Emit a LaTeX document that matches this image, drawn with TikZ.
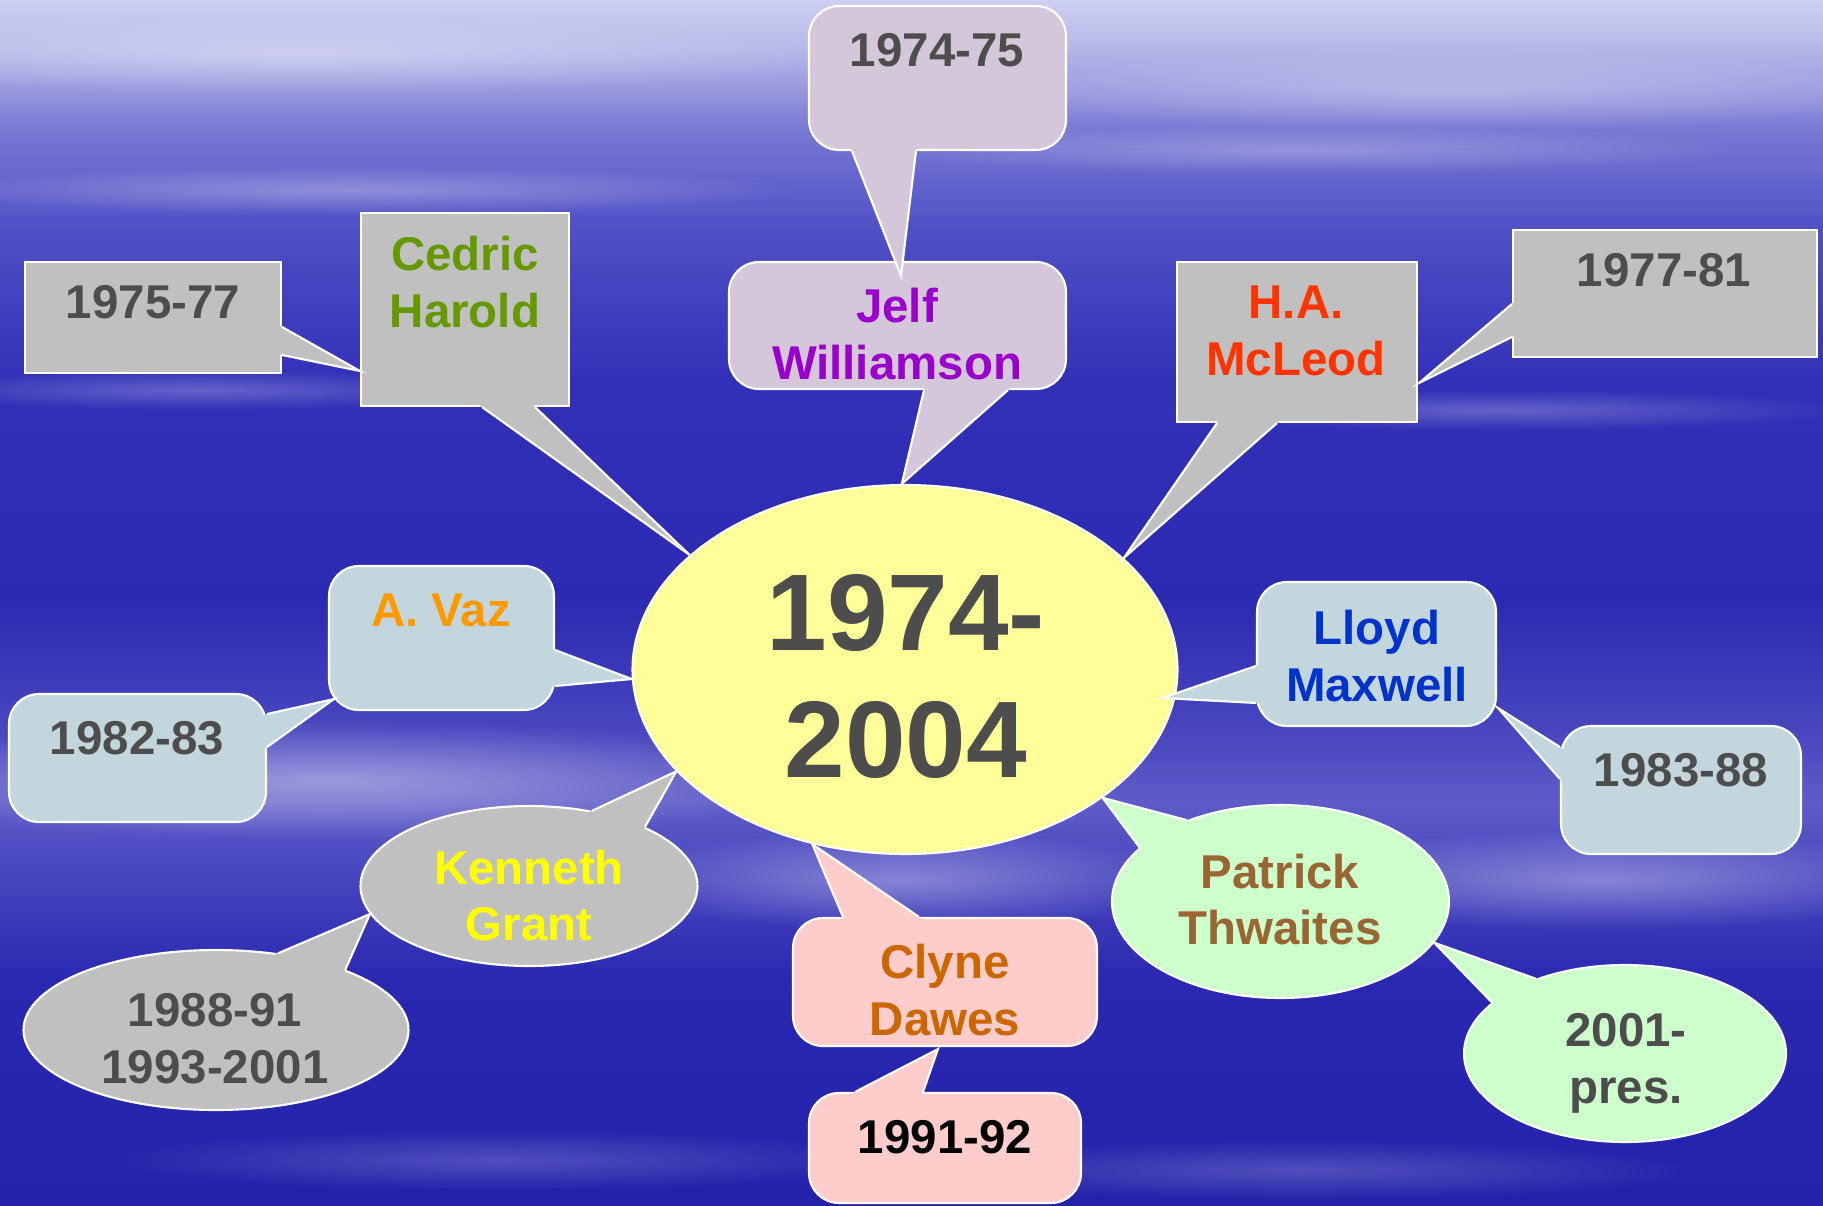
\documentclass[tikz,border=0pt]{standalone}
\usepackage{fontspec}
\setmainfont{Liberation Sans}
\usepackage{tikz}
\usetikzlibrary{shapes,positioning,calc,fadings}

\definecolor{grayfill}{RGB}{192,192,192}
\definecolor{lilac}{RGB}{212,199,217}
\definecolor{icefill}{RGB}{195,214,222}
\definecolor{pinkfill}{RGB}{255,204,204}
\definecolor{mintfill}{RGB}{204,255,204}
\definecolor{sunfill}{RGB}{255,255,153}
\definecolor{yeartext}{RGB}{77,77,77}
\definecolor{namegreen}{RGB}{102,153,0}
\definecolor{namepurple}{RGB}{153,0,204}
\definecolor{namered}{RGB}{255,51,0}
\definecolor{nameorange}{RGB}{255,153,0}
\definecolor{nameblue}{RGB}{0,51,204}
\definecolor{nameyellow}{RGB}{255,255,0}
\definecolor{namerust}{RGB}{204,102,0}
\definecolor{namebrown}{RGB}{153,102,51}
\definecolor{skyT}{RGB}{205,208,240}
\definecolor{skyT2}{RGB}{180,182,232}
\definecolor{skyM2}{RGB}{120,120,212}
\definecolor{skyM}{RGB}{80,80,198}
\definecolor{skyB2}{RGB}{50,48,183}
\definecolor{skyB}{RGB}{44,42,178}
\definecolor{skyC}{RGB}{75,72,192}
\definecolor{skyL}{RGB}{95,92,200}
\definecolor{skyC2}{RGB}{70,68,190}
\definecolor{skyD}{RGB}{42,40,176}
\definecolor{skyE}{RGB}{36,34,170}

\pgfdeclareverticalshading{sky}{100bp}{color(0bp)=(skyE); color(25bp)=(skyE); color(34.4bp)=(skyD); color(38.5bp)=(skyC2); color(41.8bp)=(skyL); color(44.3bp)=(skyC); color(50.1bp)=(skyB); color(59.2bp)=(skyB2); color(65.5bp)=(skyM); color(69.6bp)=(skyM2); color(72.9bp)=(skyT2); color(75bp)=(skyT); color(100bp)=(skyT)}

\tikzfading[name=softblob, inner color=transparent!0, outer color=transparent!100]

\tikzset{
  rim/.style={draw=white, line width=0.6pt},
  box/.style={rectangle, rim, inner sep=0pt},
  rbox/.style={box, rounded corners=3mm},
  oval/.style={ellipse, rim, inner sep=0pt},
  txt/.style={align=center, inner sep=0pt, text=yeartext, font=\fontsize{13.5}{16.2}\selectfont\bfseries},
  haze/.style={white, path fading=softblob},
}

\newcommand{\drawpointer}[4]{%
  \coordinate (pa) at #2;
  \coordinate (pb) at #3;
  \coordinate (pt) at #4;
  \fill[#1] ($(pt)!1.25!(pa)$) -- (pt) -- ($(pt)!1.25!(pb)$) -- cycle;
  \draw[rim, line join=miter] (pa) -- (pt) -- (pb);
}

\begin{document}
\begin{tikzpicture}[x=0.1mm, y=-0.1mm]
    \useasboundingbox (0,0) rectangle (1823,1206);
    \shade[shading=sky] (0,0) rectangle (1823,1206);
    \fill[haze, opacity=0.35] (300,55) ellipse (55mm and 4mm);
    \fill[haze, opacity=0.3] (1450,90) ellipse (50mm and 4mm);
    \fill[haze, opacity=0.3] (350,190) ellipse (45mm and 2.5mm);
    \fill[haze, opacity=0.25] (1300,150) ellipse (45mm and 2.5mm);
    \fill[haze, opacity=0.25] (200,390) ellipse (30mm and 2mm);
    \fill[haze, opacity=0.25] (1500,410) ellipse (35mm and 2mm);
    \fill[haze, opacity=0.4] (330,780) ellipse (50mm and 6mm);
    \fill[haze, opacity=0.35] (1600,880) ellipse (35mm and 5mm);
    \fill[haze, opacity=0.35] (900,880) ellipse (30mm and 5mm);
    \fill[haze, opacity=0.2] (500,1160) ellipse (40mm and 3mm);
    \fill[haze, opacity=0.2] (1300,1170) ellipse (40mm and 3mm);

    \node[oval, fill=sunfill, minimum width=54.5mm, minimum height=36.9mm] (centre) at (905,669.5) {};
    \node[rbox, fill=lilac, minimum width=25.7mm, minimum height=14.4mm] (y7475) at (937.5,78) {};
    \node[rbox, fill=lilac, minimum width=33.7mm, minimum height=12.7mm] (jelf) at (897.5,325.5) {};
    \node[box, fill=grayfill, minimum width=25.6mm, minimum height=11.1mm] (y7577) at (153,317.5) {};
    \node[box, fill=grayfill, minimum width=20.8mm, minimum height=19.3mm] (cedric) at (465,309.5) {};
    \node[box, fill=grayfill, minimum width=24mm, minimum height=16mm] (mcleod) at (1297,342) {};
    \node[box, fill=grayfill, minimum width=30.4mm, minimum height=12.7mm] (y7781) at (1665,293.5) {};
    \node[rbox, fill=icefill, minimum width=22.5mm, minimum height=14.4mm] (vaz) at (441.5,638) {};
    \node[rbox, fill=icefill, minimum width=25.7mm, minimum height=12.8mm] (y8283) at (137.5,758) {};
    \node[rbox, fill=icefill, minimum width=23.9mm, minimum height=14.4mm] (lloyd) at (1376.5,654) {};
    \node[rbox, fill=icefill, minimum width=24mm, minimum height=12.8mm] (y8388) at (1681,790) {};
    \node[oval, fill=grayfill, minimum width=33.7mm, minimum height=16mm] (kenneth) at (529,886) {};
    \node[oval, fill=grayfill, minimum width=38.5mm, minimum height=16mm] (y8891) at (216,1030) {};
    \node[rbox, fill=pinkfill, minimum width=30.4mm, minimum height=12.8mm] (clyne) at (945,982) {};
    \node[rbox, fill=pinkfill, minimum width=27.2mm, minimum height=11mm] (y9192) at (945,1148) {};
    \node[oval, fill=mintfill, minimum width=33.7mm, minimum height=19.3mm] (patrick) at (1280.5,901.5) {};
    \node[oval, fill=mintfill, minimum width=32.2mm, minimum height=17.7mm] (y0104) at (1625,1053.5) {};

    \drawpointer{lilac}{($(y7475.south)+(-85.5,0)$)}{($(y7475.south)+(-21.5,0)$)}{($(jelf.north)+(3.5,15)$)}
    \drawpointer{lilac}{($(jelf.south)+(26.5,0)$)}{($(jelf.south)+(110.5,0)$)}{(centre.91.9)}
    \drawpointer{grayfill}{($(y7577.east)+(0,9.5)$)}{($(y7577.east)+(0,37.5)$)}{($(cedric.west)+(0,61.5)$)}
    \drawpointer{grayfill}{($(cedric.south)+(17,0)$)}{($(cedric.south)+(70,0)$)}{(centre.152.8)}
    \drawpointer{grayfill}{($(mcleod.south)+(-80,0)$)}{($(mcleod.south)+(-20,0)$)}{(centre.27.6)}
    \drawpointer{grayfill}{($(y7781.west)+(0,10.5)$)}{($(y7781.west)+(0,43.5)$)}{($(mcleod.east)+(1,41)$)}
    \drawpointer{icefill}{($(vaz.east)+(0,12)$)}{($(vaz.east)+(0,48)$)}{(centre.182)}
    \drawpointer{icefill}{($(y8283.east)+(0,-44)$)}{($(y8283.east)+(0,-11)$)}{($(vaz.south west)+(6,-12)$)}
    \drawpointer{icefill}{($(lloyd.west)+(0,12)$)}{($(lloyd.west)+(0,49)$)}{($(centre.east)+(-16.5,28.5)$)}
    \drawpointer{icefill}{($(y8388.west)+(0,-43)$)}{($(y8388.west)+(0,-11)$)}{($(lloyd.south east)+(1,-19)$)}
    \drawpointer{grayfill}{(kenneth.50.9)}{(kenneth.27)}{(centre.204.6)}
    \drawpointer{grayfill}{(y8891.51.2)}{(y8891.25.8)}{(kenneth.190.5)}
    \drawpointer{pinkfill}{($(clyne.north)+(-102,0)$)}{($(clyne.north)+(-26,0)$)}{(centre.242.4)}
    \drawpointer{pinkfill}{($(y9192.north)+(-90,0)$)}{($(y9192.north)+(-22,0)$)}{($(clyne.south)+(-7,2)$)}
    \drawpointer{mintfill}{(patrick.139.6)}{(patrick.159.2)}{(centre.-33.5)}
    \drawpointer{mintfill}{(y0104.140.8)}{(y0104.159.7)}{(patrick.-15.8)}

    \node[txt, font=\fontsize{31}{36.1}\selectfont\bfseries] (tcentre) at (906,676.5) {1974-\\2004};
    \node[txt] (t7475) at (937,50.5) {1974-75};
    \node[txt, text=namepurple] (tjelf) at (897,334) {Jelf\\Williamson};
    \node[txt] (t7577) at (153,302) {1975-77};
    \node[txt, text=namegreen] (tcedric) at (465,282.5) {Cedric\\Harold};
    \node[txt, text=namered] (tmcleod) at (1296,330.5) {H.A.\\McLeod};
    \node[txt] (t7781) at (1664,270) {1977-81};
    \node[txt, text=nameorange] (tvaz) at (441,610.5) {A. Vaz};
    \node[txt] (t8283) at (137,738.5) {1982-83};
    \node[txt, text=nameblue] (tlloyd) at (1377,656) {Lloyd\\Maxwell};
    \node[txt] (t8388) at (1681,770) {1983-88};
    \node[txt, text=nameyellow] (tkenneth) at (529,895.5) {Kenneth\\Grant};
    \node[txt] (t8891) at (215,1039) {1988-91\\1993-2001};
    \node[txt, text=namerust] (tclyne) at (945,990) {Clyne\\Dawes};
    \node[txt, text=black] (t9192) at (945,1137.5) {1991-92};
    \node[txt, text=namebrown] (tpatrick) at (1280,899.5) {Patrick\\Thwaites};
    \node[txt] (t0104) at (1626,1063) {2001-\\pres.};
\end{tikzpicture}
\end{document}
